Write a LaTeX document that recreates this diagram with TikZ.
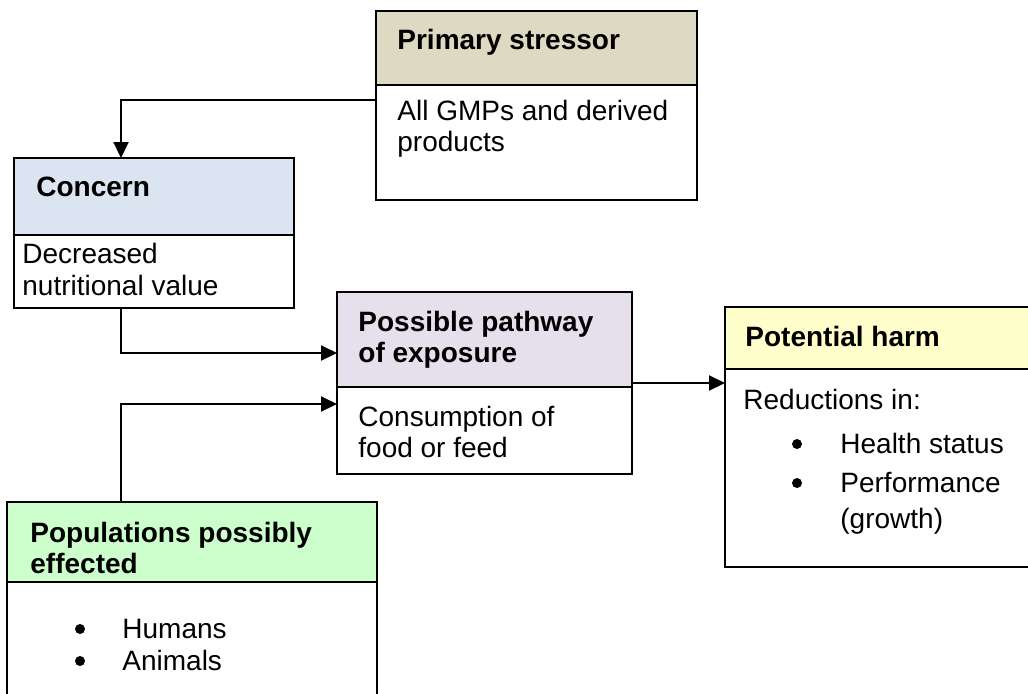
\documentclass[tikz,border=0pt]{standalone}
\usepackage{fontspec}
\setmainfont{Liberation Sans}
\usetikzlibrary{arrows.meta,calc}
\definecolor{stressorc}{HTML}{DDD9C3}
\definecolor{concernc}{HTML}{DBE5F1}
\definecolor{pathc}{HTML}{E5E0EC}
\definecolor{harmc}{HTML}{FFFFCC}
\definecolor{popc}{HTML}{CCFFCC}
\tikzset{
  box/.style={draw=black, line width=1pt, anchor=north west, inner sep=0pt, outer sep=0pt},
  txt/.style={anchor=base west, inner sep=0pt, font=\fontsize{14}{16}\selectfont},
  hd/.style={anchor=base west, inner sep=0pt, font=\fontsize{14}{16}\selectfont\bfseries},
  bul/.style={circle, fill=black, inner sep=0pt, minimum size=5pt},
  conn/.style={line width=1pt, -{Triangle[length=8pt,width=7.5pt]}}
}
\begin{document}
\begin{tikzpicture}[x=0.5pt,y=-0.5pt]
\useasboundingbox (0,0) rectangle (1028,693);
\clip (0,0) rectangle (1028,693);
% boxes
\node[box, fill=stressorc, minimum width=321*0.5pt, minimum height=74*0.5pt] (psh) at (376,11) {};
\node[box, fill=white, minimum width=321*0.5pt, minimum height=115*0.5pt] (psb) at (376,85) {};
\node[box, fill=concernc, minimum width=280*0.5pt, minimum height=77*0.5pt] (ch) at (14,158) {};
\node[box, fill=white, minimum width=280*0.5pt, minimum height=73*0.5pt] (cb) at (14,235) {};
\node[box, fill=pathc, minimum width=295*0.5pt, minimum height=95*0.5pt] (pwh) at (337,292) {};
\node[box, fill=white, minimum width=295*0.5pt, minimum height=87*0.5pt] (pwb) at (337,387) {};
\node[box, fill=harmc, minimum width=340*0.5pt, minimum height=62*0.5pt] (hh) at (725,307) {};
\node[box, fill=white, minimum width=340*0.5pt, minimum height=198*0.5pt] (hb) at (725,369) {};
\node[box, fill=popc, minimum width=370*0.5pt, minimum height=80*0.5pt] (poh) at (7,502) {};
\node[box, fill=white, minimum width=370*0.5pt, minimum height=150*0.5pt] (pob) at (7,582) {};
% helper coordinates
\coordinate (cx) at (121,100);
\coordinate (y353) at (0,353);
\coordinate (y404) at (0,404);
\coordinate (y383) at (0,383);
% connectors
\draw[conn] (psb.west |- cx) -| (ch.north -| cx);
\draw[conn] (cb.south -| cx) |- (pwh.west |- y353);
\draw[conn] (poh.north -| cx) |- (pwb.west |- y404);
\draw[conn] (pwh.east |- y383) -- (hb.west |- y383);
% texts
\node[hd] (t1) at (397,49) {Primary stressor};
\node[txt] (t2) at (397,120) {All GMPs and derived};
\node[txt] (t3) at (397,151) {products};
\node[hd] (t4) at (36,196) {Concern};
\node[txt] (t5) at (22,263) {Decreased};
\node[txt] (t6) at (22,295) {nutritional value};
\node[hd] (t7) at (358,331) {Possible pathway};
\node[hd] (t8) at (358,362) {of exposure};
\node[txt] (t9) at (358,426) {Consumption of};
\node[txt] (t10) at (358,457) {food or feed};
\node[hd] (t11) at (745,346) {Potential harm};
\node[txt] (t12) at (743,409) {Reductions in:};
\node[bul] (b1) at (797,444) {};
\node[bul] (b2) at (797,483) {};
\node[txt] (t13) at (840,453) {Health status};
\node[txt] (t14) at (840,492) {Performance};
\node[txt] (t15) at (840,528) {(growth)};
\node[hd] (t16) at (30,542) {Populations possibly};
\node[hd] (t17) at (30,573) {effected};
\node[bul] (b3) at (80,629) {};
\node[bul] (b4) at (80,661) {};
\node[txt] (t18) at (122,638) {Humans};
\node[txt] (t19) at (122,670) {Animals};
\end{tikzpicture}
\end{document}
